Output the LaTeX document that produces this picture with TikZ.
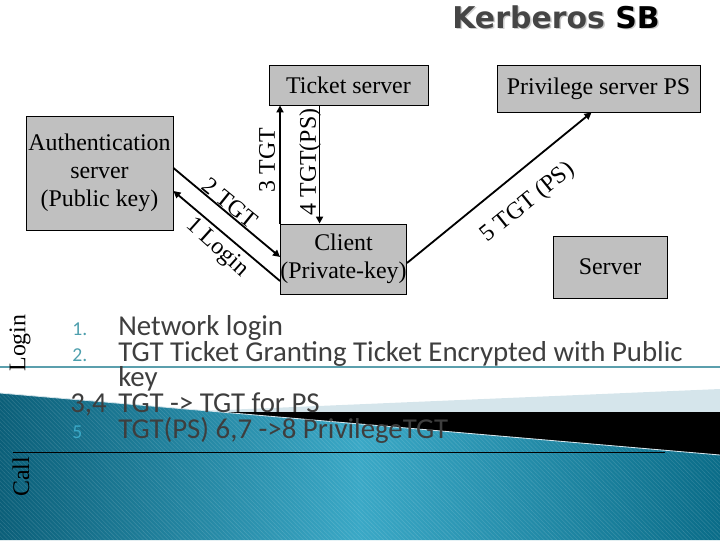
\documentclass[tikz,border=0pt]{standalone}
\usepackage{fontspec}
\setmainfont{Liberation Serif}
\newfontfamily\listfont{Carlito}
\newfontfamily\titlefont{DejaVu Sans}
\usetikzlibrary{arrows.meta,calc,patterns}
\definecolor{boxgray}{HTML}{C0C0C0}
\definecolor{titlegray}{HTML}{454545}
\definecolor{shadowgray}{HTML}{CDCDCD}
\definecolor{numteal}{HTML}{4E9FAD}
\definecolor{tealdark}{HTML}{0B5F79}
\definecolor{teallight}{HTML}{3AA8C6}
\definecolor{tealright}{HTML}{0A6C88}
\definecolor{paleblue}{HTML}{D5E5EB}
\definecolor{rulecol}{HTML}{5B9FAD}
\definecolor{listgray}{HTML}{3E3E3E}

\begin{document}
\begin{tikzpicture}[x=0.025cm, y=-0.025cm,
    srv/.style = {draw = black, line width = 0.6pt, fill = boxgray, inner sep = 0pt, align = center, font = \fontsize{17}{19.8}\selectfont},
    msg/.style = {line width = 1.3pt, -{Triangle[length = 5pt, width = 5pt]}},
    lbl/.style = {inner sep = 0pt, font = \fontsize{17}{19.8}\selectfont},
    item/.style = {anchor = base west, inner sep = 0pt, text = listgray, font = \listfont\fontsize{20.5}{24}\selectfont},
    num/.style = {anchor = base west, inner sep = 0pt, text = numteal, font = \listfont\fontsize{14}{16}\selectfont},
    heading/.style = {anchor = base west, inner sep = 0pt, font = \titlefont\bfseries\fontsize{21.3}{25}\selectfont}]
    \useasboundingbox (0, 0) rectangle (720, 540);
    % background
    \fill[paleblue] (200, 411) -- (720, 389) -- (720, 413) -- (200, 413) -- cycle;
    \fill[black] (200, 412) rectangle (720, 458);
    \shade[left color = tealdark, right color = tealright, middle color = teallight] (0, 393) -- (720, 455) -- (720, 540) -- (0, 540) -- cycle;
    \fill[pattern = north west lines, pattern color = white, opacity = 0.12] (0, 393) -- (720, 455) -- (720, 540) -- (0, 540) -- cycle;
    \draw[paleblue, line width = 0.6pt] (0, 393) -- (720, 455);
    \draw[rulecol, line width = 0.8pt] (0, 367) -- (720, 367);
    \draw[black, line width = 0.6pt] (13, 452) -- (665, 452);

    \node[heading, text = shadowgray] (shadow) at (453.5, 29.5) {Kerberos SB};
    \node[heading] (title) at (452, 28) {\textcolor{titlegray}{Kerberos} SB};

    \node[srv, minimum width = 3.675cm, minimum height = 2.85cm] (auth) at (99.5, 173) {Authentication\\server\\(Public key)};
    \node[srv, minimum width = 3.975cm, minimum height = 1cm] (tick) at (348.5, 85) {Ticket server};
    \node[srv, minimum width = 3.125cm, minimum height = 1.75cm] (client) at (343.5, 259) {Client\\(Private-key)};
    \node[srv, minimum width = 5.075cm, minimum height = 1.175cm] (priv) at (598.5, 88.5) {Privilege server PS};
    \node[srv, minimum width = 2.85cm, minimum height = 1.55cm] (serv) at (610, 267) {Server};

    \coordinate (t4) at ($(tick.south west) + (51, 0)$);
    \draw[msg] ($(auth.east) + (0, -5)$) -- ($(client.west) + (0, -2)$);
    \draw[msg] ($(client.west) + (0, 22)$) -- ($(auth.east) + (0, 18)$);
    \draw[msg] (client.north west) -- (client.north west |- tick.south);
    \draw[msg] (t4) -- (t4 |- client.north);
    \draw[msg] ($(client.east) + (0, 4)$) -- ($(priv.south) + (-7, 0)$);

    \node[lbl, rotate = -39] (m2) at (230, 203) {2 TGT};
    \node[lbl, rotate = -42] (m1) at (217, 248) {1 Login};
    \node[lbl, rotate = 90] (m3) at (267, 160) {3 TGT};
    \node[lbl, rotate = 90] (m4) at (310, 162) {4 TGT(PS)};
    \node[lbl, rotate = 39] (m5) at (528, 203) {5 TGT (PS)};

    \node[lbl, rotate = 90] (login) at (20, 343) {Login};
    \node[lbl, rotate = 90] (call) at (21, 477) {Call};

    \node[num] (n1) at (72, 335) {1.};
    \node[item] (i1) at (118, 335) {Network login};
    \node[num] (n2) at (72, 361) {2.};
    \node[item] (i2) at (118, 361) {TGT Ticket Granting Ticket Encrypted with Public};
    \node[item] (i2b) at (118, 386) {key};
    \node[item] (n3) at (70, 412) {3,4};
    \node[item] (i3) at (118, 412) {TGT -> TGT for PS};
    \node[num, text = teallight] (n5) at (72, 438) {5};
    \node[item] (i5) at (118, 438) {TGT(PS) 6,7 ->8 PrivilegeTGT};
\end{tikzpicture}
\end{document}
